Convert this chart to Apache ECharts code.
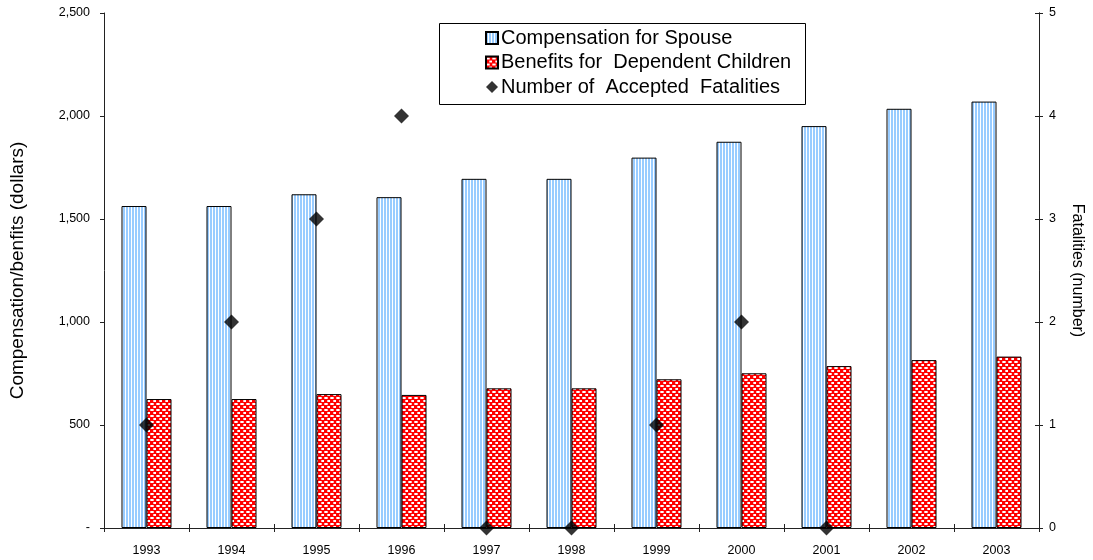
<!DOCTYPE html>
<html>
<head>
<meta charset="utf-8">
<script src="https://cdn.jsdelivr.net/npm/echarts@6/dist/echarts.min.js"></script>
<style>
  html, body { margin: 0; padding: 0; background: #fff; }
  #chart { width: 1093px; height: 560px; }
</style>
</head>
<body>
<div id="chart"></div>
<script>
// Yearly figures
const years = ['1993', '1994', '1995', '1996', '1997', '1998', '1999', '2000', '2001', '2002', '2003'];
const spouseCompensation = [1563, 1563, 1620, 1606, 1695, 1695, 1798, 1875, 1951, 2035, 2070];
const childBenefits = [626, 626, 650, 646, 678, 678, 722, 751, 786, 815, 832];
const acceptedFatalities = [1, 2, 3, 4, 0, 0, 1, 2, 0, '-', '-'];

const seriesNames = ['Compensation for Spouse', 'Benefits for  Dependent Children', 'Number of  Accepted  Fatalities'];
const leftAxisName = 'Compensation/benfits (dollars)';
const rightAxisName = 'Fatalities (number)';

const FONT = 'Liberation Sans, Arial, sans-serif';

// Fill patterns: light-blue vertical stripes and a red/white check
function stripePattern() {
  const c = document.createElement('canvas');
  c.width = 3; c.height = 4;
  const g = c.getContext('2d');
  g.fillStyle = '#ffffff'; g.fillRect(0, 0, 3, 4);
  g.fillStyle = '#99ccff'; g.fillRect(0, 0, 2, 4);
  return c;
}
function checkPattern() {
  const c = document.createElement('canvas');
  c.width = 6; c.height = 6;
  const g = c.getContext('2d');
  g.fillStyle = '#ff0000'; g.fillRect(0, 0, 6, 6);
  g.fillStyle = '#ffb0b0'; g.fillRect(0, 1, 4, 2); g.fillRect(3, 4, 4, 2);
  g.fillStyle = '#ffffff'; g.fillRect(1, 1, 2, 2); g.fillRect(4, 4, 2, 2);
  return c;
}

const chart = echarts.init(document.getElementById('chart'), null, { renderer: 'canvas' });

const grid = { left: 104, right: 50, top: 13, bottom: 32 };
const tickLabel = { color: '#000', fontFamily: FONT, fontSize: 12.5 };

chart.setOption({
  animation: false,
  backgroundColor: '#ffffff',
  grid: grid,
  graphic: [{
    type: 'rect',
    left: 439, top: 23,
    shape: { width: 366, height: 81 },
    style: { fill: '#fff', stroke: '#000', lineWidth: 1 },
    z: 5
  }],
  legend: {
    orient: 'vertical',
    left: 485, top: 28,
    itemWidth: 12, itemHeight: 12, itemGap: 4.5,
    padding: 0,
    textStyle: { color: '#000', fontFamily: FONT, fontSize: 20, padding: [0, 0, 0, -2] },
    data: [
      { name: seriesNames[0], icon: 'rect' },
      { name: seriesNames[1], icon: 'rect' },
      { name: seriesNames[2], icon: 'diamond' }
    ],
    z: 10
  },
  xAxis: [{
    type: 'category',
    data: years,
    axisLine: { lineStyle: { color: '#222', width: 1 } },
    axisTick: { show: true, inside: true, length: 4, lineStyle: { color: '#222' } },
    axisLabel: Object.assign({ margin: 16 }, tickLabel),
    splitLine: { show: false }
  }, {
    type: 'category',
    data: years,
    position: 'bottom',
    axisLine: { lineStyle: { color: '#222', width: 1 } },
    axisTick: { show: true, inside: false, length: 4, lineStyle: { color: '#222' } },
    axisLabel: { show: false },
    splitLine: { show: false }
  }],
  yAxis: [{
    type: 'value',
    min: 0, max: 2500, interval: 500,
    position: 'left',
    name: leftAxisName,
    nameLocation: 'middle',
    nameRotate: 90,
    nameGap: 77,
    nameTextStyle: { color: '#000', fontFamily: FONT, fontSize: 19 },
    axisLine: { show: true, lineStyle: { color: '#222' } },
    axisTick: { show: true, length: 4, lineStyle: { color: '#222' } },
    axisLabel: Object.assign({
      margin: 14,
      formatter: function (v) { return v === 0 ? '-' : v.toLocaleString('en-US'); }
    }, tickLabel),
    splitLine: { show: false }
  }, {
    type: 'value',
    min: 0, max: 5, interval: 1,
    position: 'right',
    name: rightAxisName,
    nameLocation: 'middle',
    nameRotate: -90,
    nameGap: 30,
    nameTextStyle: { color: '#000', fontFamily: FONT, fontSize: 16 },
    axisLine: { show: true, lineStyle: { color: '#222' } },
    axisTick: { show: true, length: 4, lineStyle: { color: '#222' } },
    axisLabel: Object.assign({ margin: 10 }, tickLabel),
    splitLine: { show: false }
  }, {
    type: 'value',
    min: 0, max: 5, interval: 1,
    position: 'right',
    axisLine: { show: true, lineStyle: { color: '#222' } },
    axisTick: { show: true, inside: true, length: 4, lineStyle: { color: '#222' } },
    axisLabel: { show: false },
    splitLine: { show: false }
  }],
  series: [{
    name: seriesNames[0],
    type: 'bar',
    xAxisIndex: 0, yAxisIndex: 0,
    barWidth: 25,
    barGap: '0%',
    data: spouseCompensation,
    itemStyle: {
      color: { image: stripePattern(), repeat: 'repeat' },
      borderColor: '#000', borderWidth: 1
    }
  }, {
    name: seriesNames[1],
    type: 'bar',
    xAxisIndex: 0, yAxisIndex: 0,
    barWidth: 25,
    barGap: '0%',
    data: childBenefits,
    itemStyle: {
      color: { image: checkPattern(), repeat: 'repeat' },
      borderColor: '#000', borderWidth: 1
    }
  }, {
    name: seriesNames[2],
    type: 'scatter',
    xAxisIndex: 0, yAxisIndex: 1,
    symbol: 'diamond',
    symbolSize: 15,
    data: acceptedFatalities,
    itemStyle: { color: '#000' },
    z: 4
  }]
});
</script>
</body>
</html>
